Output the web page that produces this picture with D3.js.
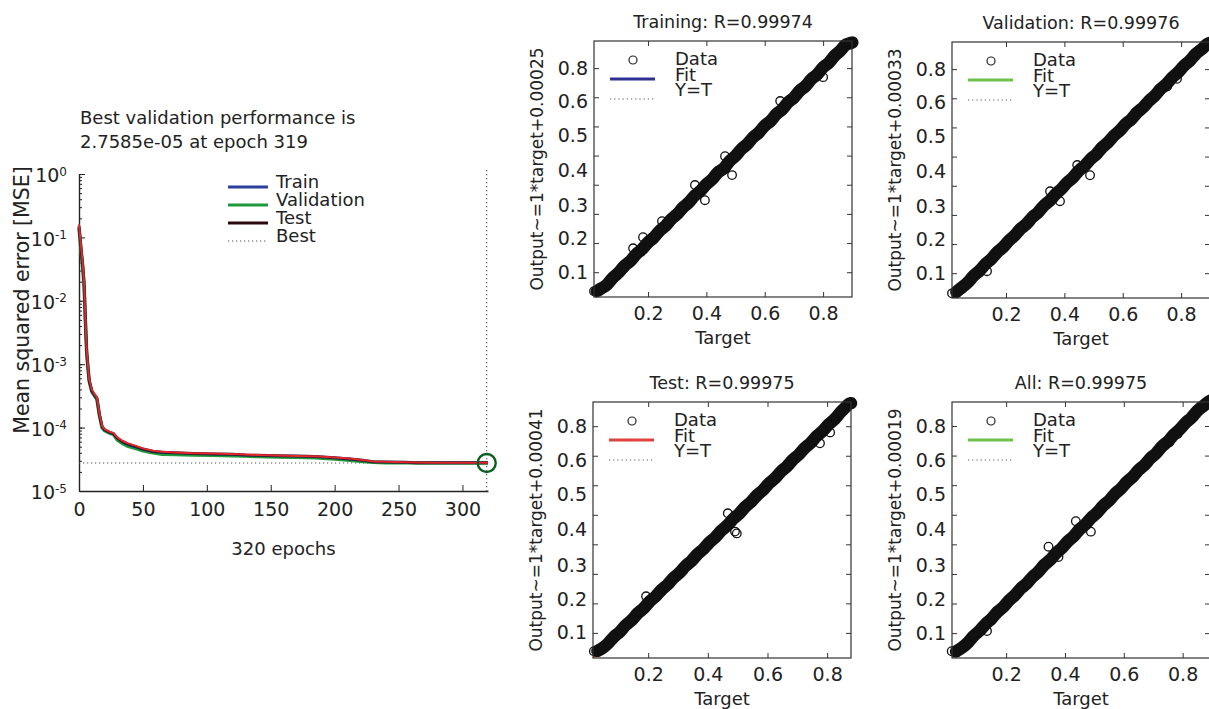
<!DOCTYPE html>
<html>
<head>
<meta charset="utf-8">
<script src="https://cdn.jsdelivr.net/npm/d3@7"></script>
<style>
  body { margin: 0; background: #fff; }
  svg text { font-family: "DejaVu Sans", "Liberation Sans", Arial, sans-serif; fill: #222; }
</style>
</head>
<body>
<svg id="chart" width="1209" height="709"></svg>
<script>
// ---- performance (MSE per epoch) ----
const epochs  = [0, 1, 2, 3, 4, 5, 6, 7, 8, 10, 12, 14, 16, 18, 20, 24, 27, 30, 34, 38, 44, 50, 58, 65, 75, 90, 105, 120, 130, 140, 155, 170, 185, 200, 212, 222, 230, 240, 255, 265, 280, 300, 320];
const trainMse = [0.15, 0.09, 0.055, 0.035, 0.018, 0.005, 0.0016, 0.0009, 0.00055, 0.00038, 0.00033, 0.00029, 0.00016, 0.000105, 0.000092, 0.000084, 0.00008, 0.000068, 0.00006, 0.000055, 0.00005, 0.000046, 0.000042, 0.000041, 0.00004, 0.000039, 0.0000385, 0.000038, 0.000037, 0.0000365, 0.000036, 0.0000355, 0.000035, 0.0000335, 0.000032, 0.0000305, 0.000029, 0.0000287, 0.0000283, 0.000028, 0.0000279, 0.0000278, 0.0000278];
const valMse   = [0.14, 0.085, 0.05, 0.032, 0.017, 0.0048, 0.0015, 0.00088, 0.00054, 0.00037, 0.00032, 0.00028, 0.000155, 0.0001, 0.00009, 0.000082, 0.000078, 0.000064, 0.000056, 0.000051, 0.000047, 0.000043, 0.00004, 0.000038, 0.0000375, 0.0000368, 0.0000365, 0.000036, 0.0000355, 0.000035, 0.0000345, 0.000034, 0.0000335, 0.000032, 0.0000305, 0.0000292, 0.0000285, 0.000028, 0.0000278, 0.0000277, 0.0000277, 0.0000276, 0.0000276];
const testMse  = [0.16, 0.095, 0.06, 0.037, 0.019, 0.0052, 0.0017, 0.00095, 0.00057, 0.0004, 0.00034, 0.0003, 0.000165, 0.000108, 0.000094, 0.000086, 0.000082, 0.00007, 0.000062, 0.000057, 0.000052, 0.000047, 0.000043, 0.0000415, 0.0000405, 0.0000395, 0.000039, 0.0000385, 0.0000378, 0.000037, 0.0000362, 0.0000357, 0.0000352, 0.0000338, 0.0000325, 0.0000308, 0.0000293, 0.0000289, 0.0000285, 0.0000282, 0.000028, 0.0000279, 0.0000279];
const bestEpoch = 319;
const bestMse = 2.7585e-5;
const totalEpochs = 320;
const perfTitle = ["Best validation performance is", "2.7585e-05 at epoch 319"];
const perfLegend = ["Train", "Validation", "Test", "Best"];
const perfXTicks = [0, 50, 100, 150, 200, 250, 300];
const perfYTicks = [1e-5, 1e-4, 1e-3, 1e-2, 1e-1, 1];

// ---- regression panels ----
const panelNames = ["Training", "Validation", "Test", "All"];
const panelR = ["0.99974", "0.99976", "0.99975", "0.99975"];
const fitSlope = [1, 1, 1, 1];
const fitIntercept = [0.00025, 0.00033, 0.00041, 0.00019];
const axisMin = [0.015, 0.015, 0.015, 0.016];
const axisMaxX = [0.899, 0.899, 0.88, 0.893];
const axisMaxY = [0.893, 0.893, 0.882, 0.881];
const regXTicks = [0.2, 0.4, 0.6, 0.8];
const regYTicks = [0.1, 0.2, 0.3, 0.4, 0.5, 0.6, 0.7, 0.8];
const regYLabelAt = [0.1, 0.215, 0.33, 0.45, 0.57, 0.685, 0.8];
const regYLabels = ["0.1", "0.2", "0.3", "0.4", "0.5", "0.6", "0.8"];
const legendLabels = ["Data", "Fit", "Y=T"];

const trainingCore = [[0.025,0.035],[0.04,0.045],[0.06,0.055],[0.08,0.084],[0.10,0.097],[0.12,0.125],[0.14,0.136],[0.16,0.165],[0.18,0.176],[0.20,0.205],[0.22,0.216],[0.24,0.245],[0.26,0.256],[0.28,0.285],[0.30,0.296],[0.32,0.325],[0.34,0.336],[0.36,0.366],[0.38,0.376],[0.40,0.405],[0.42,0.415],[0.44,0.447],[0.46,0.452],[0.48,0.485],[0.50,0.496],[0.52,0.525],[0.54,0.536],[0.56,0.566],[0.58,0.576],[0.60,0.606],[0.62,0.615],[0.64,0.646],[0.66,0.655],[0.68,0.686],[0.70,0.695],[0.72,0.726],[0.74,0.735],[0.76,0.766],[0.78,0.775],[0.80,0.806],[0.82,0.815],[0.84,0.846],[0.86,0.858],[0.875,0.882],[0.89,0.884],[0.9,0.888]];
const trainingOut = [[0.015,0.035],[0.464,0.498],[0.488,0.433],[0.361,0.399],[0.395,0.347],[0.248,0.275],[0.183,0.22],[0.149,0.182],[0.80,0.769],[0.653,0.687]];

const validationCore = [[0.03,0.036],[0.05,0.053],[0.07,0.068],[0.09,0.094],[0.11,0.107],[0.13,0.134],[0.15,0.147],[0.17,0.175],[0.19,0.186],[0.21,0.214],[0.23,0.227],[0.25,0.255],[0.27,0.266],[0.29,0.294],[0.31,0.306],[0.33,0.335],[0.35,0.346],[0.37,0.374],[0.39,0.387],[0.41,0.414],[0.43,0.426],[0.45,0.455],[0.47,0.466],[0.49,0.494],[0.51,0.506],[0.53,0.535],[0.55,0.546],[0.57,0.574],[0.59,0.587],[0.61,0.614],[0.63,0.626],[0.65,0.655],[0.67,0.666],[0.69,0.694],[0.71,0.706],[0.73,0.735],[0.75,0.746],[0.77,0.774],[0.79,0.787],[0.81,0.814],[0.83,0.826],[0.85,0.855],[0.87,0.866],[0.885,0.884],[0.898,0.89]];
const validationOut = [[0.015,0.031],[0.488,0.436],[0.351,0.381],[0.385,0.347],[0.444,0.471],[0.135,0.107],[0.786,0.767],[0.752,0.74]];

const testCore = [[0.03,0.039],[0.045,0.047],[0.065,0.062],[0.085,0.089],[0.105,0.101],[0.125,0.129],[0.145,0.141],[0.165,0.169],[0.185,0.181],[0.205,0.209],[0.225,0.221],[0.245,0.249],[0.265,0.261],[0.285,0.289],[0.305,0.301],[0.325,0.329],[0.345,0.341],[0.365,0.369],[0.385,0.381],[0.405,0.409],[0.425,0.421],[0.445,0.449],[0.465,0.461],[0.485,0.489],[0.505,0.501],[0.525,0.529],[0.545,0.541],[0.565,0.569],[0.585,0.581],[0.605,0.609],[0.625,0.621],[0.645,0.649],[0.665,0.661],[0.685,0.689],[0.705,0.701],[0.725,0.729],[0.745,0.741],[0.765,0.769],[0.785,0.781],[0.805,0.809],[0.825,0.821],[0.845,0.849],[0.86,0.862],[0.872,0.876],[0.88,0.878]];
const testOut = [[0.018,0.038],[0.467,0.505],[0.491,0.443],[0.497,0.437],[0.32,0.323],[0.193,0.224],[0.776,0.742],[0.81,0.779]];

const allCore = [[0.03,0.038],[0.05,0.051],[0.07,0.066],[0.09,0.093],[0.11,0.106],[0.13,0.133],[0.15,0.146],[0.17,0.174],[0.19,0.185],[0.21,0.213],[0.23,0.226],[0.25,0.254],[0.27,0.265],[0.29,0.293],[0.31,0.305],[0.33,0.334],[0.35,0.345],[0.37,0.373],[0.39,0.386],[0.41,0.413],[0.43,0.425],[0.45,0.454],[0.47,0.465],[0.49,0.493],[0.51,0.505],[0.53,0.534],[0.55,0.545],[0.57,0.573],[0.59,0.586],[0.61,0.613],[0.63,0.625],[0.65,0.654],[0.67,0.665],[0.69,0.693],[0.71,0.705],[0.73,0.734],[0.75,0.745],[0.77,0.773],[0.79,0.786],[0.81,0.813],[0.83,0.825],[0.85,0.854],[0.87,0.866],[0.885,0.881],[0.895,0.886]];
const allOut = [[0.015,0.039],[0.344,0.392],[0.378,0.357],[0.488,0.443],[0.437,0.478],[0.783,0.773],[0.755,0.745],[0.135,0.107]];

const coreSets = [trainingCore, validationCore, testCore, allCore];
const outlierSets = [trainingOut, validationOut, testOut, allOut];

const colors = {
  train: "#2a3f9c",
  val: "#1e9a3c",
  test: "#e3262c",
  testLegend: "#2a0a10",
  fit: ["#2e3192", "#6cc24a", "#e0443e", "#6cc24a"]
};

const svg = d3.select("#chart");
const FONT = '"DejaVu Sans", "Liberation Sans", Arial, sans-serif';

function styleAxis(g, size) {
  g.attr("font-size", size).attr("font-family", FONT).attr("color", "#222");
}

// ================= performance plot =================
let perfX = d3.scaleLinear().domain([0, totalEpochs]).range([79, 488]);
let perfY = d3.scaleLog().domain([1e-5, 1]).range([491, 174]);

let perf = svg.append("g");

// minor log ticks
perf.append("g")
    .attr("transform", "translate(" + perfX(0) + ",0)")
    .call(d3.axisLeft(perfY).tickValues(perfY.ticks()).tickFormat("").tickSizeInner(-3).tickSizeOuter(0))
    .call(g => g.select(".domain").remove())
    .selectAll("line").attr("stroke", "#222");

// major y ticks + 10^n labels
let yAx = perf.append("g")
    .attr("transform", "translate(" + perfX(0) + ",0)")
    .call(d3.axisLeft(perfY).tickValues(perfYTicks).tickSizeInner(-6).tickSizeOuter(0).tickPadding(12).tickFormat(d => "10"));
styleAxis(yAx, 19);
yAx.select(".domain").attr("stroke-width", 1.4);
yAx.selectAll(".tick text")
    .attr("dy", "0.4em")
    .each(function(d) {
      d3.select(this).append("tspan")
        .attr("dy", "-0.55em")
        .attr("font-size", 12)
        .text(Math.round(Math.log10(d)));
    });

// x axis
let xAx = perf.append("g")
    .attr("transform", "translate(0," + perfY(1e-5) + ")")
    .call(d3.axisBottom(perfX).tickValues(perfXTicks).tickSizeInner(-6).tickSizeOuter(0).tickPadding(12));
styleAxis(xAx, 19);
xAx.select(".domain").attr("stroke-width", 1.4);

// best lines
perf.append("line")
    .attr("x1", perfX(0)).attr("x2", perfX(totalEpochs))
    .attr("y1", perfY(bestMse)).attr("y2", perfY(bestMse))
    .attr("stroke", "#555").attr("stroke-width", 1.1).attr("stroke-dasharray", "1.2,2.8");
perf.append("line")
    .attr("x1", perfX(bestEpoch)).attr("x2", perfX(bestEpoch))
    .attr("y1", perfY(1) - 4).attr("y2", perfY(1e-5))
    .attr("stroke", "#555").attr("stroke-width", 1.1).attr("stroke-dasharray", "1.2,2.8");

// curves
let mseLine = d3.line().x((d, i) => perfX(epochs[i])).y(d => perfY(d));
perf.append("path").datum(valMse).attr("d", mseLine)
    .attr("fill", "none").attr("stroke", colors.val).attr("stroke-width", 3.5);
perf.append("path").datum(trainMse).attr("d", mseLine)
    .attr("fill", "none").attr("stroke", "#1c1c3a").attr("stroke-width", 3);
perf.append("path").datum(testMse).attr("d", mseLine)
    .attr("fill", "none").attr("stroke", colors.test).attr("stroke-width", 2);

// best point circle
perf.append("circle")
    .attr("cx", perfX(bestEpoch)).attr("cy", perfY(bestMse)).attr("r", 9)
    .attr("fill", "none").attr("stroke", "#0b5e1e").attr("stroke-width", 2.4);

// title
perf.selectAll(".ptitle").data(perfTitle).enter().append("text")
    .attr("x", 80).attr("y", (d, i) => 124 + i * 24)
    .attr("font-size", 18).text(d => d);

// legend
let legColors = [colors.train, colors.val, colors.testLegend, "#555"];
let leg = perf.selectAll(".pleg").data(perfLegend).enter().append("g")
    .attr("transform", (d, i) => "translate(228," + (187 + i * 18) + ")");
leg.append("line").attr("x1", 0).attr("x2", 40)
    .attr("stroke", (d, i) => legColors[i])
    .attr("stroke-width", (d, i) => i == 3 ? 1.1 : 3)
    .attr("stroke-dasharray", (d, i) => i == 3 ? "1.2,2.8" : null);
leg.append("text").attr("x", 48).attr("y", 1).attr("font-size", 18).text(d => d);

// axis labels
perf.append("text")
    .attr("x", (perfX(0) + perfX(totalEpochs)) / 2).attr("y", 555)
    .attr("text-anchor", "middle").attr("font-size", 18)
    .text(totalEpochs + " epochs");
perf.append("text")
    .attr("transform", "translate(29,300) rotate(-90)")
    .attr("text-anchor", "middle").attr("font-size", 20.5)
    .text("Mean squared error [MSE]");

// ================= regression panels =================
let panelPos = [[594, 41], [952, 42], [593, 402], [952, 402]];
let panelW = 258, panelH = 256;

function drawPanel(k) {
  let left = panelPos[k][0], top = panelPos[k][1];
  let g = svg.append("g").attr("transform", "translate(" + left + "," + top + ")");
  let x = d3.scaleLinear().domain([axisMin[k], axisMaxX[k]]).range([0, panelW]);
  let y = d3.scaleLinear().domain([axisMin[k], axisMaxY[k]]).range([panelH, 0]);

  let clipId = "clip" + k;
  g.append("clipPath").attr("id", clipId)
    .append("rect").attr("width", panelW).attr("height", panelH);

  // Y = T
  g.append("line").attr("clip-path", "url(#" + clipId + ")")
    .attr("x1", x(axisMin[k])).attr("y1", y(axisMin[k]))
    .attr("x2", x(axisMaxX[k])).attr("y2", y(axisMaxX[k]))
    .attr("stroke", "#444").attr("stroke-dasharray", "1.2,2.8");

  // fit line
  let fx0 = axisMin[k], fx1 = axisMaxX[k];
  g.append("line").attr("clip-path", "url(#" + clipId + ")")
    .attr("x1", x(fx0)).attr("y1", y(fitSlope[k] * fx0 + fitIntercept[k]))
    .attr("x2", x(fx1)).attr("y2", y(fitSlope[k] * fx1 + fitIntercept[k]))
    .attr("stroke", colors.fit[k]).attr("stroke-width", 2.5);

  // dense data band (smoothed through the points)
  let core = coreSets[k];
  g.append("path").datum(core)
    .attr("d", d3.line().curve(d3.curveBasis).x(d => x(d[0])).y(d => y(d[1])))
    .attr("fill", "none").attr("stroke", "#111").attr("stroke-width", 12.5)
    .attr("stroke-linecap", "round").attr("stroke-linejoin", "round");

  g.selectAll(".pt").data(core.concat(outlierSets[k])).enter().append("circle")
    .attr("cx", d => x(d[0])).attr("cy", d => y(d[1])).attr("r", 4.3)
    .attr("fill", "none").attr("stroke", "#111").attr("stroke-width", 1.3);

  // box and ticks
  g.append("rect").attr("width", panelW).attr("height", panelH)
    .attr("fill", "none").attr("stroke", "#333").attr("stroke-width", 1.2);

  let tickG = [
    [d3.axisBottom(x).tickValues(regXTicks), "translate(0," + panelH + ")"],
    [d3.axisTop(x).tickValues(regXTicks), "translate(0,0)"],
    [d3.axisLeft(y).tickValues(regYTicks), "translate(0,0)"],
    [d3.axisRight(y).tickValues(regYTicks), "translate(" + panelW + ",0)"]
  ];
  tickG.forEach(t => {
    g.append("g").attr("transform", t[1])
      .call(t[0].tickFormat("").tickSizeInner(-5).tickSizeOuter(0))
      .call(a => a.select(".domain").remove())
      .selectAll("line").attr("stroke", "#333");
  });

  // tick labels
  let bx = g.append("g").attr("transform", "translate(0," + panelH + ")")
    .call(d3.axisBottom(x).tickValues(regXTicks).tickSize(0).tickPadding(10))
    .call(a => a.select(".domain").remove());
  styleAxis(bx, 19);
  let ly = g.append("g")
    .call(d3.axisLeft(y).tickValues(regYLabelAt).tickFormat((d, i) => regYLabels[i]).tickSize(0).tickPadding(6))
    .call(a => a.select(".domain").remove());
  styleAxis(ly, 19);

  // legend
  g.append("circle").attr("cx", 39).attr("cy", 19).attr("r", 4)
    .attr("fill", "none").attr("stroke", "#222").attr("stroke-width", 1.2);
  g.append("line").attr("x1", 16).attr("x2", 61).attr("y1", 38).attr("y2", 38)
    .attr("stroke", colors.fit[k]).attr("stroke-width", 3);
  g.append("line").attr("x1", 16).attr("x2", 61).attr("y1", 58).attr("y2", 58)
    .attr("stroke", "#555").attr("stroke-dasharray", "1.2,3");
  g.selectAll(".lg").data(legendLabels).enter().append("text")
    .attr("x", 81).attr("y", (d, i) => 24 + i * 15.5).attr("font-size", 18).text(d => d);

  // titles
  g.append("text").attr("x", panelW / 2).attr("y", -13)
    .attr("text-anchor", "middle").attr("font-size", 17.5)
    .text(panelNames[k] + ": R=" + panelR[k]);
  g.append("text").attr("x", panelW / 2).attr("y", panelH + 47)
    .attr("text-anchor", "middle").attr("font-size", 18)
    .text("Target");
  g.append("text")
    .attr("transform", "translate(-51," + (panelH / 2) + ") rotate(-90)")
    .attr("text-anchor", "middle").attr("font-size", 17)
    .text("Output~=" + fitSlope[k] + "*target+" + fitIntercept[k].toFixed(5));
}

[0, 1, 2, 3].forEach(drawPanel);
</script>
</body>
</html>
